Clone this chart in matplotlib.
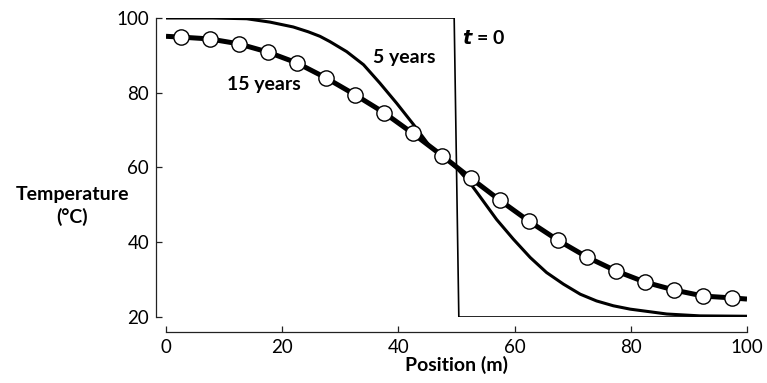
import matplotlib
matplotlib.use('Agg')
from matplotlib import pyplot as plt

# t = 0 initial step profile
x_t0 = [0, 49.6, 50.4, 100]
temp_t0 = [100, 100, 20, 20]

# 5 years profile
x_5y = [0, 8, 13.9, 17.9, 21.9, 24.5, 26.5, 28.2, 31.1, 34.0, 36.8, 39.7, 42.6,
        45.4, 48.3, 50.0, 52.3, 54.0, 56.9, 59.8, 62.7, 65.5, 68.4, 71.3, 74.1,
        77.0, 79.9, 83.3, 86.2, 91.9, 100]
temp_5y = [100, 100, 99.8, 98.9, 97.6, 96.3, 95.1, 93.7, 91.0, 87.5, 82.6, 77.2, 71.5,
           65.7, 62.1, 59.9, 55.9, 52.3, 46.1, 40.8, 35.9, 31.9, 28.8, 26.1, 24.3,
           23.0, 22.1, 21.4, 20.8, 20.3, 20.2]

# 15 years profile, markers every 5 m
x_15y = [2.5, 7.5, 12.5, 17.5, 22.5, 27.5, 32.5, 37.5, 42.5, 47.5,
         52.5, 57.5, 62.5, 67.5, 72.5, 77.5, 82.5, 87.5, 92.5, 97.5]
temp_15y = [94.9, 94.4, 93.1, 90.9, 88.0, 84.0, 79.5, 74.7, 69.1, 63.2,
            57.1, 51.2, 45.6, 40.5, 36.0, 32.3, 29.3, 27.2, 25.6, 25.1]
x_15y_ends = [0, 100]
temp_15y_ends = [95.1, 24.8]

plt.rcParams['font.family'] = ['Lato', 'DejaVu Sans']

fig = plt.figure(figsize=(7.67, 3.83), dpi=100)
ax = fig.add_axes([166 / 767, 1 - 317 / 383, 581 / 767, 299 / 383])

ax.plot(x_t0, temp_t0, color="black", linewidth=1.2)
ax.plot(x_5y, temp_5y, color="black", linewidth=2.2)
line_x = [x_15y_ends[0]] + x_15y + [x_15y_ends[1]]
line_y = [temp_15y_ends[0]] + temp_15y + [temp_15y_ends[1]]
ax.plot(line_x, line_y, color="black", linewidth=3.6, solid_capstyle="butt")
ax.plot(x_15y, temp_15y, "o", markersize=11, markerfacecolor="white",
        markeredgecolor="black", markeredgewidth=1.0)

ax.set_xlim(0, 100)
ax.set_ylim(20, 100)
ax.set_xticks([0, 20, 40, 60, 80, 100])
ax.set_yticks([20, 40, 60, 80, 100])

for side in ["top", "right"]:
    ax.spines[side].set_visible(False)
ax.spines["left"].set_position(("outward", 7.2))
ax.spines["bottom"].set_position(("outward", 10.5))
for side in ["left", "bottom"]:
    ax.spines[side].set_linewidth(0.9)
    ax.spines[side].set_color("#222222")
ax.tick_params(direction="in", length=4, width=0.9, labelsize=13.5, color="#222222",
               labelcolor="black", pad=5)

ax.set_xlabel("Position (m)", fontsize=14, fontweight="bold", labelpad=0)
fig.text(72 / 767, 1 - 206 / 383, "Temperature\n(°C)", fontsize=14,
         fontweight="bold", ha="center", va="center", linespacing=1.3)

ax.text(50.9, 94.7, "$\\boldsymbol{t}$ = 0", fontsize=14, fontweight="bold",
        ha="left", va="center")
ax.text(35.6, 89.5, "5 years", fontsize=14, fontweight="bold", ha="left", va="center")
ax.text(10.5, 82.3, "15 years", fontsize=14, fontweight="bold", ha="left", va="center")

plt.savefig("out.png", dpi=100)
